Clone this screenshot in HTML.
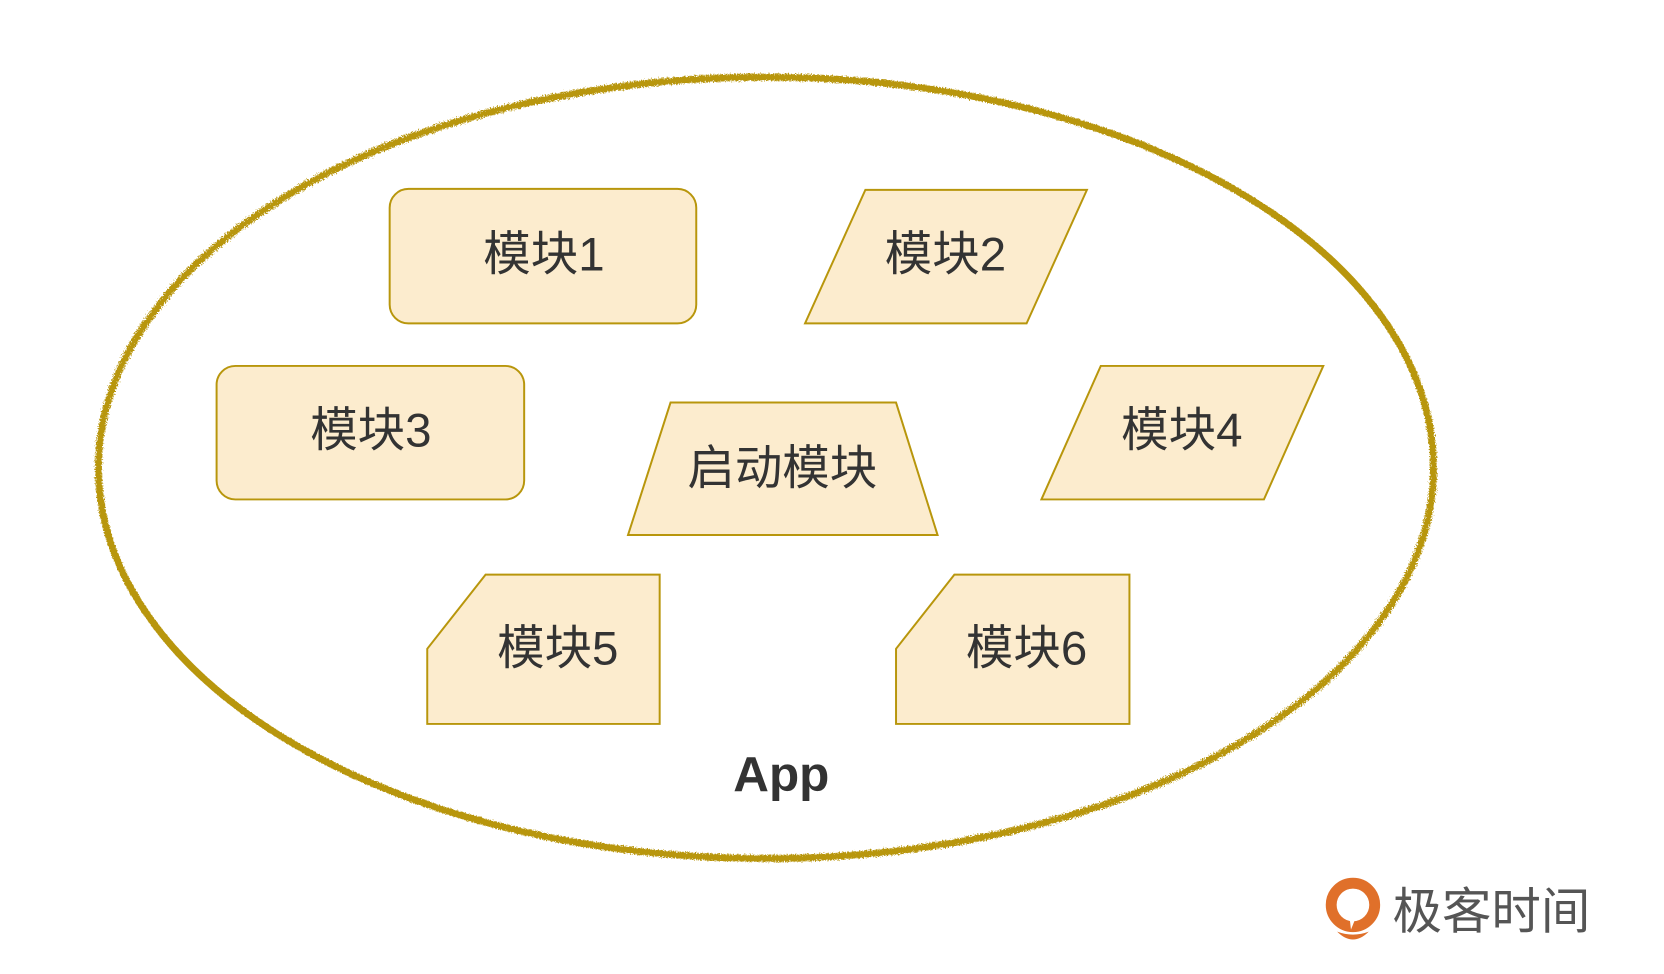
<!DOCTYPE html>
<html><head><meta charset="utf-8"><style>
html,body{margin:0;padding:0;background:#fff;}
svg{display:block}
text{font-family:"Liberation Sans","Noto Sans CJK SC",sans-serif;fill:#333;}
</style></head><body>
<svg width="1664" height="974" viewBox="0 0 1664 974" xmlns="http://www.w3.org/2000/svg">
<defs>
<filter id="rough" x="-5%" y="-5%" width="110%" height="110%">
<feTurbulence type="fractalNoise" baseFrequency="0.7" numOctaves="2" result="n"/>
<feDisplacementMap in="SourceGraphic" in2="n" scale="6"/>
</filter>
</defs>
<g transform="scale(0.989)">
<ellipse cx="774.5" cy="473" rx="675" ry="395" fill="none" stroke="#b8960c" stroke-width="7" filter="url(#rough)"/>
<g fill="#fcecce" stroke="#b8960c" stroke-width="2">
<rect x="394" y="191" width="310" height="136" rx="19"/>
<polygon points="875,192 1099,192 1038,327 814,327"/>
<rect x="219" y="370" width="311" height="135" rx="19"/>
<polygon points="1113,370 1338,370 1278,505 1053,505"/>
<polygon points="678,407 906,407 948,541 635,541"/>
<polygon points="491,581 667,581 667,732 432,732 432,656"/>
<polygon points="965,581 1142,581 1142,732 906,732 906,656"/>
</g>
<g font-size="48" text-anchor="middle" dominant-baseline="central">
<text x="550" y="258">模块1</text>
<text x="956" y="258">模块2</text>
<text x="375" y="436">模块3</text>
<text x="1195" y="436">模块4</text>
<text x="791" y="474">启动模块</text>
<text x="564" y="656">模块5</text>
<text x="1038" y="656">模块6</text>
<text x="790" y="783" font-weight="bold" font-size="50">App</text>
</g>
<g>
<circle cx="1368" cy="915" r="22" fill="none" stroke="#e0702a" stroke-width="11"/>
<path d="M1352 942 Q1368 958 1384 942 Q1368 948 1352 942Z" fill="#e0702a"/>
<path d="M1362 905 L1372 925 L1366 940 Z" fill="#fff"/>
<text x="1408" y="922" font-size="50" dominant-baseline="central" style="fill:#555">极客时间</text>
</g>
</g>
</svg>
</body></html>
